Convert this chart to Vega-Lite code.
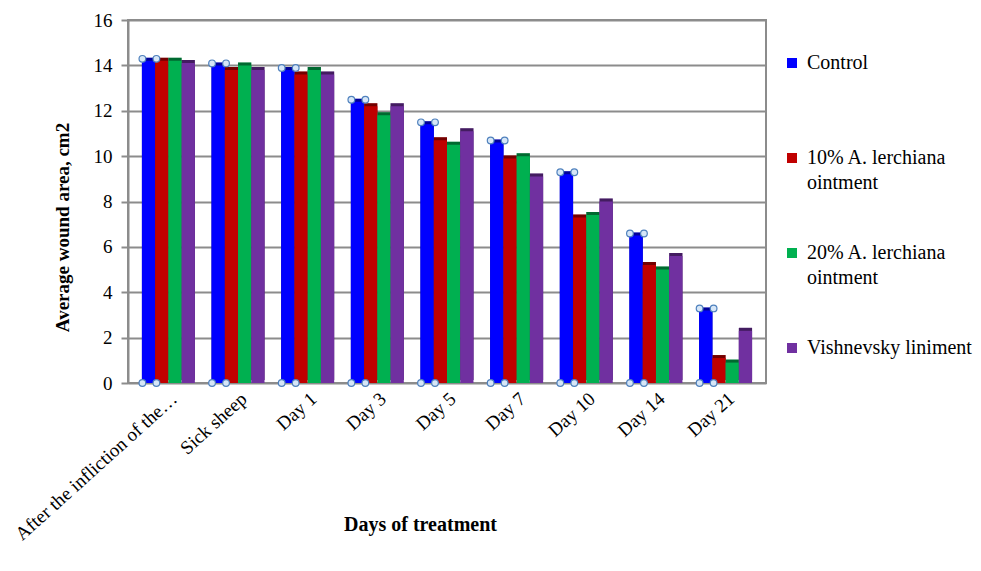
{
  "$schema": "https://vega.github.io/schema/vega-lite/v6.json",
  "width": 638,
  "height": 363,
  "autosize": "none",
  "padding": {"left": 128, "top": 20, "right": 215, "bottom": 188},
  "config": {
    "font": "Liberation Serif",
    "view": {"stroke": "#8c8c8c", "strokeWidth": 2},
    "axis": {"labelFont": "Liberation Serif", "titleFont": "Liberation Serif", "labelColor": "#000", "titleColor": "#000"},
    "legend": {"labelFont": "Times New Roman"}
  },
  "data": {
    "values": [
      {"day": "After the infliction of the…", "group": "Control", "area": 14.2},
      {"day": "After the infliction of the…", "group": "10% A. lerchiana ointment", "area": 14.2},
      {"day": "After the infliction of the…", "group": "20% A. lerchiana ointment", "area": 14.2},
      {"day": "After the infliction of the…", "group": "Vishnevsky liniment", "area": 14.1},
      {"day": "Sick sheep", "group": "Control", "area": 14.0},
      {"day": "Sick sheep", "group": "10% A. lerchiana ointment", "area": 13.8},
      {"day": "Sick sheep", "group": "20% A. lerchiana ointment", "area": 14.0},
      {"day": "Sick sheep", "group": "Vishnevsky liniment", "area": 13.8},
      {"day": "Day 1", "group": "Control", "area": 13.8},
      {"day": "Day 1", "group": "10% A. lerchiana ointment", "area": 13.6},
      {"day": "Day 1", "group": "20% A. lerchiana ointment", "area": 13.8},
      {"day": "Day 1", "group": "Vishnevsky liniment", "area": 13.6},
      {"day": "Day 3", "group": "Control", "area": 12.4},
      {"day": "Day 3", "group": "10% A. lerchiana ointment", "area": 12.2},
      {"day": "Day 3", "group": "20% A. lerchiana ointment", "area": 11.8},
      {"day": "Day 3", "group": "Vishnevsky liniment", "area": 12.2},
      {"day": "Day 5", "group": "Control", "area": 11.4},
      {"day": "Day 5", "group": "10% A. lerchiana ointment", "area": 10.7},
      {"day": "Day 5", "group": "20% A. lerchiana ointment", "area": 10.5},
      {"day": "Day 5", "group": "Vishnevsky liniment", "area": 11.1},
      {"day": "Day 7", "group": "Control", "area": 10.6},
      {"day": "Day 7", "group": "10% A. lerchiana ointment", "area": 9.9},
      {"day": "Day 7", "group": "20% A. lerchiana ointment", "area": 10.0},
      {"day": "Day 7", "group": "Vishnevsky liniment", "area": 9.1},
      {"day": "Day 10", "group": "Control", "area": 9.2},
      {"day": "Day 10", "group": "10% A. lerchiana ointment", "area": 7.3},
      {"day": "Day 10", "group": "20% A. lerchiana ointment", "area": 7.4},
      {"day": "Day 10", "group": "Vishnevsky liniment", "area": 8.0},
      {"day": "Day 14", "group": "Control", "area": 6.5},
      {"day": "Day 14", "group": "10% A. lerchiana ointment", "area": 5.2},
      {"day": "Day 14", "group": "20% A. lerchiana ointment", "area": 5.0},
      {"day": "Day 14", "group": "Vishnevsky liniment", "area": 5.6},
      {"day": "Day 21", "group": "Control", "area": 3.2},
      {"day": "Day 21", "group": "10% A. lerchiana ointment", "area": 1.1},
      {"day": "Day 21", "group": "20% A. lerchiana ointment", "area": 0.9},
      {"day": "Day 21", "group": "Vishnevsky liniment", "area": 2.3}
    ]
  },
  "encoding": {
    "x": {
      "field": "day",
      "type": "nominal",
      "sort": null,
      "scale": {"paddingInner": 0.24, "paddingOuter": 0.2},
      "axis": {
        "title": "Days of treatment",
        "titleFontSize": 20,
        "titleFontWeight": "bold",
        "titleX": 292,
        "titleY": 131,
        "titleBaseline": "top",
        "labelAngle": -42,
        "labelFontSize": 19,
        "labelPadding": 6,
        "labelLimit": 400,
        "domain": false,
        "ticks": false
      }
    },
    "y": {
      "field": "area",
      "type": "quantitative",
      "scale": {"domain": [0, 16]},
      "axis": {
        "title": "Average wound area, cm2",
        "titleFontSize": 19,
        "titleFontWeight": "bold",
        "titlePadding": 21,
        "titleY": 207,
        "labelFontSize": 19,
        "labelPadding": 9,
        "values": [0, 2, 4, 6, 8, 10, 12, 14, 16],
        "labelOverlap": false,
        "tickSize": 7,
        "tickColor": "#8c8c8c",
        "tickWidth": 2,
        "domainColor": "#8c8c8c",
        "domainWidth": 2,
        "gridColor": "#8c8c8c",
        "gridWidth": 2
      }
    }
  },
  "layer": [
    {
      "mark": {"type": "bar", "xOffset": 3, "yOffset": -3},
      "encoding": {
        "xOffset": {"field": "group", "type": "nominal", "sort": null, "scale": {"paddingInner": 0}},
        "color": {"field": "group", "type": "nominal", "sort": null}
      }
    },
    {
      "mark": {"type": "bar", "xOffset": 3, "yOffset": -3, "color": "#000", "opacity": 0.4},
      "encoding": {
        "xOffset": {"field": "group", "type": "nominal", "sort": null}
      }
    },
    {
      "mark": {"type": "bar"},
      "encoding": {
        "xOffset": {"field": "group", "type": "nominal", "sort": null},
        "color": {
          "field": "group",
          "type": "nominal",
          "sort": null,
          "scale": {
            "domain": ["Control", "10% A. lerchiana ointment", "20% A. lerchiana ointment", "Vishnevsky liniment"],
            "range": ["#0000ff", "#c00000", "#00b050", "#7030a0"]
          },
          "legend": {
            "title": null,
            "orient": "none",
            "legendX": 654,
            "legendY": 33,
            "symbolType": "square",
            "symbolSize": 100,
            "symbolStrokeWidth": 0,
            "labelFont": "Times New Roman",
            "labelFontSize": 20,
            "labelColor": "#000",
            "labelLimit": 300,
            "gridAlign": "all",
            "rowPadding": 50,
            "labelOffset": 5,
            "labelExpr": "indexof(datum.label, ' ointment') > 0 ? [replace(datum.label, ' ointment', ''), 'ointment'] : datum.label",
            "encode": {
              "labels": {
                "update": {
                  "font": {"value": "Times New Roman"},
                  "lineHeight": {"value": 25}
                }
              }
            }
          }
        }
      }
    },
    {
      "transform": [{"filter": "datum.group == 'Control'"}],
      "mark": {"type": "point", "shape": "circle", "filled": true, "fill": "#d6e6f7", "stroke": "#4f81bd", "strokeWidth": 1.2, "size": 45, "xOffset": -26, "yOffset": -2, "opacity": 1}
    },
    {
      "transform": [{"filter": "datum.group == 'Control'"}],
      "mark": {"type": "point", "shape": "circle", "filled": true, "fill": "#d6e6f7", "stroke": "#4f81bd", "strokeWidth": 1.2, "size": 45, "xOffset": -12, "yOffset": -2, "opacity": 1}
    },
    {
      "transform": [{"filter": "datum.group == 'Control'"}],
      "mark": {"type": "point", "shape": "circle", "filled": true, "fill": "#d6e6f7", "stroke": "#4f81bd", "strokeWidth": 1.2, "size": 45, "xOffset": -26, "opacity": 1},
      "encoding": {"y": {"datum": 0, "type": "quantitative"}}
    },
    {
      "transform": [{"filter": "datum.group == 'Control'"}],
      "mark": {"type": "point", "shape": "circle", "filled": true, "fill": "#d6e6f7", "stroke": "#4f81bd", "strokeWidth": 1.2, "size": 45, "xOffset": -12, "opacity": 1},
      "encoding": {"y": {"datum": 0, "type": "quantitative"}}
    }
  ]
}
